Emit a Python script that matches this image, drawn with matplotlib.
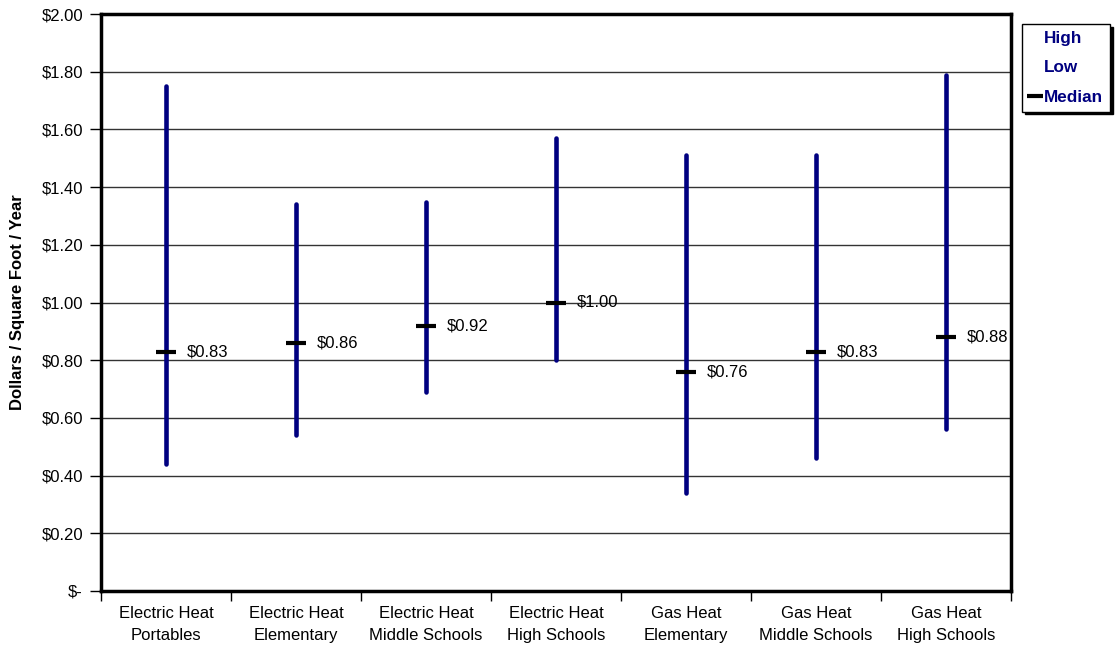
import numpy as np
import matplotlib
matplotlib.use("Agg")
import matplotlib.pyplot as plt
from matplotlib.lines import Line2D

plt.rcParams['font.family'] = ['Liberation Sans', 'DejaVu Sans']

categories = [
    "Electric Heat\nPortables",
    "Electric Heat\nElementary",
    "Electric Heat\nMiddle Schools",
    "Electric Heat\nHigh Schools",
    "Gas Heat\nElementary",
    "Gas Heat\nMiddle Schools",
    "Gas Heat\nHigh Schools",
]
high = [1.75, 1.34, 1.35, 1.57, 1.51, 1.51, 1.79]
low = [0.44, 0.54, 0.69, 0.80, 0.34, 0.46, 0.56]
median = [0.83, 0.86, 0.92, 1.00, 0.76, 0.83, 0.88]
y_ticks = [0.0, 0.2, 0.4, 0.6, 0.8, 1.0, 1.2, 1.4, 1.6, 1.8, 2.0]

navy = "#000080"

fig = plt.figure(figsize=(11.16, 6.45), dpi=100)
ax = fig.add_axes([101 / 1116, 1 - 591 / 645, 910 / 1116, 577 / 645])

x = np.arange(len(categories)) + 0.5

for yt in y_ticks[1:-1]:
    ax.axhline(yt, color="#333333", lw=1.0, zorder=1)

ax.vlines(x, low, high, color=navy, lw=3.3, zorder=3, capstyle="round")
ax.plot(x, median, marker="_", ms=14, mew=3, lw=0, color="black", zorder=4)

for xi, m in zip(x, median):
    ax.annotate(f"${m:.2f}", (xi, m), xytext=(15, 0), textcoords="offset points",
                va="center", ha="left", fontsize=12, zorder=5)

ax.set_xlim(0, 7)
ax.set_ylim(0, 2.0)
ax.set_xticks(np.arange(8))
ax.set_xticklabels([])
ax.set_xticks(x, minor=True)
ax.set_xticklabels(categories, minor=True, fontsize=12, linespacing=1.55)
ax.tick_params(axis="x", which="minor", length=0, pad=11)
ax.tick_params(axis="x", which="major", length=7, direction="out", width=1)

ax.set_yticks(y_ticks)
ax.set_yticklabels(["$-"] + [f"${v:.2f}" for v in y_ticks[1:]], fontsize=12)
ax.tick_params(axis="y", length=8, direction="out", width=1, pad=5)

ax.set_ylabel("Dollars / Square Foot / Year", fontsize=12, fontweight="bold", labelpad=12)

for s in ax.spines.values():
    s.set_linewidth(2.5)
    s.set_color("black")

handles = [
    Line2D([], [], color="none"),
    Line2D([], [], color="none"),
    Line2D([], [], color="black", marker="_", ms=11, mew=3, lw=0),
]
leg = fig.legend(handles, ["High", "Low", "Median"], loc="upper left",
                 bbox_to_anchor=(1022 / 1116, 1 - 24 / 645), frameon=True,
                 fancybox=False, shadow={"color": "black", "alpha": 1.0},
                 handlelength=0.75, handletextpad=0.15,
                 borderpad=0.4, labelspacing=0.85, fontsize=12.3,
                 borderaxespad=0)
leg.get_frame().set_edgecolor("black")
leg.get_frame().set_linewidth(1)
for t in leg.get_texts():
    t.set_color(navy)
    t.set_fontweight("bold")

fig.savefig("out.png", dpi=100)
